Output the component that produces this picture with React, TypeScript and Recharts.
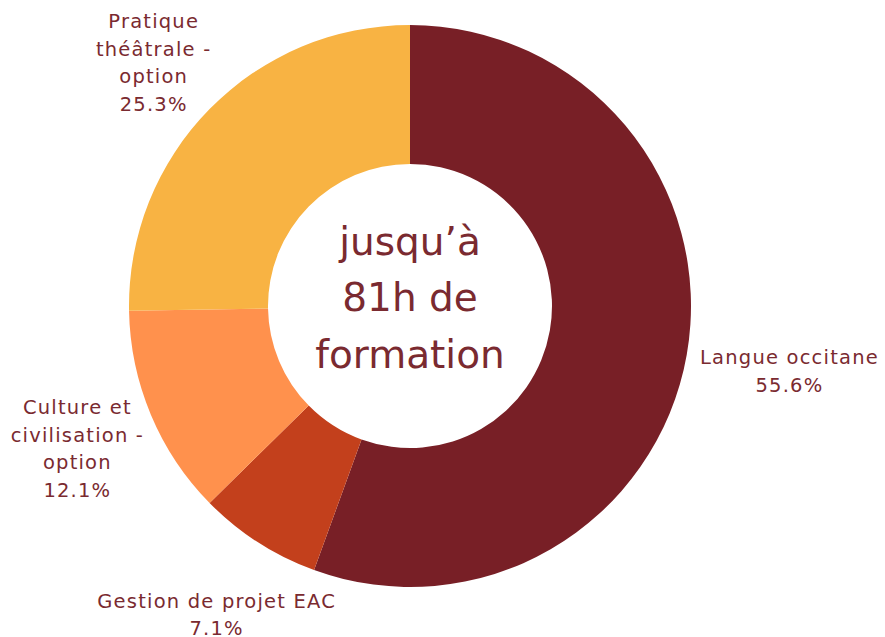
import React from 'react';
import { PieChart, Pie, Cell } from 'recharts';

// Chart values
const categories = ['Langue occitane', 'Gestion de projet EAC', 'Culture et civilisation - option', 'Pratique théâtrale - option'];
const shares = [55.6, 7.1, 12.1, 25.3];
const labelLines = [
  ['Langue occitane'],
  ['Gestion de projet EAC'],
  ['Culture et', 'civilisation -', 'option'],
  ['Pratique', 'théâtrale -', 'option'],
];
const centerLines = ['jusqu’à', '81h de', 'formation'];
const colors = ['#781F26', '#C3401C', '#FF914D', '#F8B343'];

const FONT = '"DejaVu Sans", sans-serif';
const TEXT_COLOR = '#7A2A30';
const RAD = Math.PI / 180;

const data = categories.map((name, i) => ({ name, value: shares[i] }));

/**
 * Multi-line label placed outside the ring, along the slice's mid-angle.
 * Right-side labels are pushed out a bit more, upper ones pulled down a bit (as in the original).
 */
const SliceLabel = (props: any) => {
  const { cx, cy, midAngle, index, value } = props;
  const r = 365;
  const cos = Math.cos(-midAngle * RAD);
  const sin = Math.sin(-midAngle * RAD);
  const x = cx + r * cos + (cos > 0 ? 20 : 4);
  const y = cy + r * sin + (sin < 0 ? 13 : 2);
  const lines = [...labelLines[index], `${value}%`];
  const lineHeight = 27.5;
  const top = y - ((lines.length - 1) * lineHeight) / 2;
  return (
    <text x={x} y={top} textAnchor="middle" fill={TEXT_COLOR} fontFamily={FONT} fontSize={19.5} letterSpacing={1.2}>
      {lines.map((l, i) => (
        <tspan key={i} x={x} y={top + i * lineHeight} dominantBaseline="central">
          {l}
        </tspan>
      ))}
    </text>
  );
};

const App: React.FC = () => {
  const cx = 410;
  const cy = 306;
  return (
    <div style={{ position: 'absolute', left: 0, top: 0, width: 885, height: 637, background: '#fff' }}>
      <PieChart width={885} height={637} margin={{ top: 0, right: 0, bottom: 0, left: 0 }}>
        <Pie
          data={data}
          dataKey="value"
          nameKey="name"
          cx={cx}
          cy={cy}
          innerRadius={142}
          outerRadius={281}
          startAngle={90}
          endAngle={-270}
          stroke="none"
          label={SliceLabel}
          labelLine={false}
          isAnimationActive={false}
        >
          {data.map((d, i) => (
            <Cell key={d.name} fill={colors[i]} />
          ))}
        </Pie>
        <text x={cx} y={cy} textAnchor="middle" fill={TEXT_COLOR} fontFamily={FONT} fontSize={39}>
          {centerLines.map((l, i) => (
            <tspan key={i} x={cx} y={cy - 65 + i * 56.5} dominantBaseline="central">
              {l}
            </tspan>
          ))}
        </text>
      </PieChart>
    </div>
  );
};

export default App;
